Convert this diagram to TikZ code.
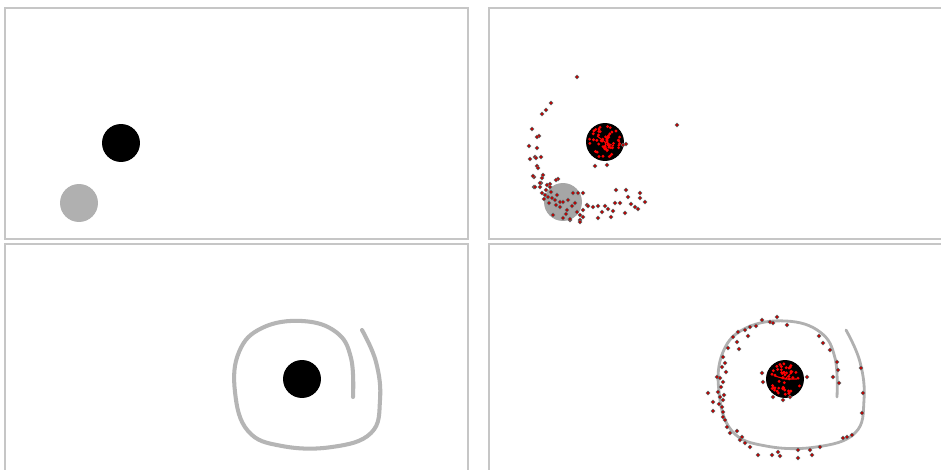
\documentclass[tikz,border=0pt]{standalone}

\tikzset{
  panel/.style={draw=gray!45, line width=0.8pt},
  ball/.style={circle, inner sep=0pt, minimum size=0.76cm},
  planet/.style={ball, fill=black},
  moon/.style={ball, fill=gray!62},
  orbit/.style={draw=gray!60, line width=2.2pt, line cap=round},
  particle/.style={fill=red!75!black, draw=black!60, line width=0.3pt},
  core/.style={fill=red},
}

\begin{document}
\begin{tikzpicture}[x=0.02cm, y=-0.02cm]

  % canvas, in pixels of the 941 x 470 frame
  \fill[white] (0,0) rectangle (941,470);
  \useasboundingbox (0,0) rectangle (941,470);

  % the four panels
  \draw[panel] (5,8) rectangle (468,239);
  \draw[panel] (489,8) rectangle (960,239);
  \draw[panel] (5,244) rectangle (468,490);
  \draw[panel] (489,244) rectangle (960,490);

  % top left -- planet and moon
  \node[planet] (tlPlanet) at (121,143) {};
  \node[moon]   (tlMoon)   at (79,203) {};

  % top right -- same pair with the particle cloud
  \node[moon, fill=gray!70] (trMoon)   at (563,202) {};
  \node[planet]             (trPlanet) at (605,142) {};

  % bottom -- swirl round the planet, drawn once per panel
  \foreach \dx/\lw/\shade in {0/2.3pt/58, 484/1.6pt/62} {
    \begin{scope}[shift={(\dx,0)}]
      \draw[orbit, line width=\lw, draw=gray!\shade]
        plot[smooth, tension=0.7] coordinates {
          (362,330) (376,362) (380,400) (371,433) (332,447)
          (282,446) (248,431) (235,392) (239,352) (262,328)
          (302,321) (336,332) (351,358) (353,397)
        };
    \end{scope}
  }
  \node[planet] (blPlanet) at (302,379) {};
  \node[planet] (brPlanet) at (785,379) {};

  % top right -- trail of particles from the moon
  \foreach \px/\py in {577/77, 551/103, 546/110, 542/114, 532/129, 539/136,
      537/137, 529/146, 537/148, 535/157, 541/157, 530/159, 536/158,
      537/166, 538/168, 534/177, 543/175, 558/179, 556/180, 541/183,
      540/187, 550/184, 534/187, 533/176, 542/178, 535/187, 540/183,
      547/185, 550/187, 542/193, 545/195, 548/197, 552/198, 555/200,
      560/202, 563/202, 568/200, 573/193, 578/193, 583/193, 560/207,
      567/210, 577/212, 553/215, 563/218, 570/220, 580/220, 580/215,
      583/210, 587/205, 588/206, 593/207, 598/206, 605/206, 608/209,
      615/203, 616/190, 626/190, 620/203, 625/213, 628/197, 635/207,
      640/193, 640/198, 645/202, 638/209, 598/218, 611/217, 580/222,
      583/217, 570/219, 677/125, 623/145, 626/144, 595/166, 607/165,
      546/190, 551/192, 557/195, 544/199, 549/203, 556/205, 572/206,
      566/214, 575/203, 602/212, 631/204, 613/211}
    \filldraw[particle] (\px,\py) circle[radius=1.1pt];

  % bottom right -- particles strung along the swirl
  \foreach \px/\py in {762/320, 770/322, 777/317, 773/323, 787/325, 750/327,
      738/332, 733/337, 748/336, 737/342, 728/348, 739/349, 723/357,
      725/363, 722/367, 726/372, 717/377, 720/378, 723/382, 718/392,
      708/393, 720/397, 723/400, 713/402, 722/407, 723/412, 713/411,
      723/417, 725/420, 727/427, 737/431, 742/437, 745/443, 750/447,
      758/455, 772/455, 778/452, 780/456, 798/450, 798/458, 810/450,
      812/455, 820/447, 843/438, 847/437, 852/435, 862/413, 863/393,
      861/368, 819/336, 823/343, 830/350, 837/362, 838/370, 839/383,
      833/377, 762/373, 763/382, 773/397, 783/400, 807/377, 790/397,
      721/387, 719/404, 724/395, 730/433, 740/440, 756/326, 745/330}
    \filldraw[particle] (\px,\py) circle[radius=1.1pt];

  % particles caught inside the two planets
  \pgfmathsetseed{17}
  \foreach \k in {1,...,55} {
    \pgfmathsetmacro\ang{360*rnd}
    \pgfmathsetmacro\rad{16*sqrt(rnd)}
    \fill[core] ([shift={(\ang:\rad)}]trPlanet.center) circle[radius=0.9pt];
  }
  \foreach \k in {1,...,50} {
    \pgfmathsetmacro\ang{360*rnd}
    \pgfmathsetmacro\rad{16*sqrt(rnd)}
    \fill[core] ([shift={(\ang:\rad)}]brPlanet.center) circle[radius=0.9pt];
  }
  \draw[red, line width=0.6pt] (trPlanet.center) -- ++(-8,-6) (trPlanet.center) -- ++(9,4)
    (trPlanet.center) -- ++(2,10) (brPlanet.center) -- ++(-10,-3)
    (brPlanet.center) -- ++(8,-8) (brPlanet.center) -- ++(12,0);

\end{tikzpicture}
\end{document}
